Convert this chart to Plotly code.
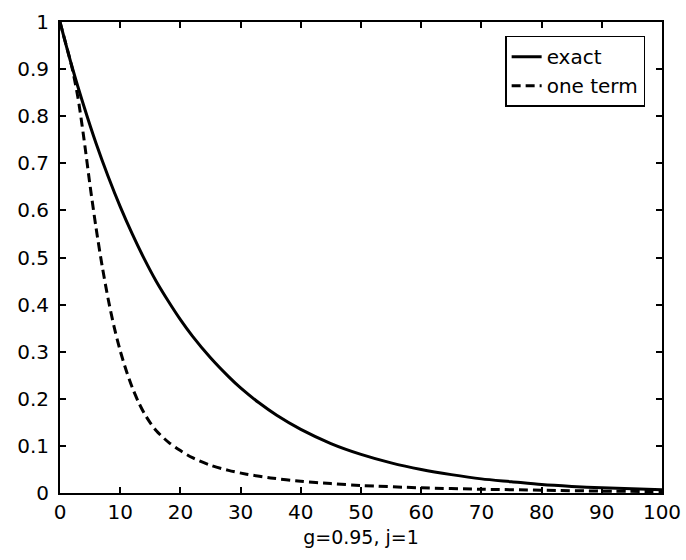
import plotly.graph_objects as go

# exact solution
x_exact = [0, 2, 4, 6, 8, 10, 12, 14, 16, 18, 20, 22, 25, 28, 30, 33, 36, 40,
           45, 50, 55, 60, 65, 70, 75, 80, 85, 90, 95, 100]
y_exact = [1.0, 0.905, 0.82, 0.742, 0.672, 0.608, 0.55, 0.497, 0.449, 0.407,
           0.368, 0.333, 0.287, 0.247, 0.223, 0.192, 0.165, 0.135, 0.105, 0.082,
           0.064, 0.05, 0.039, 0.03, 0.024, 0.018, 0.014, 0.011, 0.009, 0.007]

# one-term approximation
x_one = [0, 1, 2, 3, 4, 5, 6, 7, 8, 9, 10, 11, 12, 13, 14, 15, 16, 18, 20, 22,
         25, 28, 31, 35, 40, 45, 50, 60, 70, 80, 90, 100]
y_one = [1.0, 0.952, 0.903, 0.838, 0.75, 0.652, 0.562, 0.482, 0.412, 0.352,
         0.302, 0.26, 0.224, 0.194, 0.169, 0.149, 0.132, 0.108, 0.09, 0.075,
         0.059, 0.048, 0.04, 0.032, 0.025, 0.02, 0.016, 0.011, 0.008, 0.006,
         0.004, 0.003]

x_ticks = [0, 10, 20, 30, 40, 50, 60, 70, 80, 90, 100]
y_ticks = [0, 0.1, 0.2, 0.3, 0.4, 0.5, 0.6, 0.7, 0.8, 0.9, 1]
y_ticktext = ["0", "0.1", "0.2", "0.3", "0.4", "0.5", "0.6", "0.7", "0.8",
              "0.9", "1"]

FONT = "DejaVu Sans, Liberation Sans, Arial, sans-serif"

fig = go.Figure()
fig.add_trace(go.Scatter(x=x_exact, y=y_exact, mode="lines", name="exact",
                         line=dict(color="black", width=3, shape="spline",
                                   smoothing=0.8)))
fig.add_trace(go.Scatter(x=x_one, y=y_one, mode="lines", name="one term",
                         line=dict(color="black", width=3, dash="9px,5px",
                                   shape="spline", smoothing=0.8)))

axis_common = dict(showline=True, linecolor="black", linewidth=2, mirror="allticks",
                   ticks="inside", ticklen=6, tickwidth=1.5, tickcolor="black",
                   showgrid=False, zeroline=False, automargin=False,
                   tickfont=dict(family=FONT, size=20, color="black"))

fig.update_xaxes(range=[0, 100], tickvals=x_ticks,
                 ticktext=[str(v) for v in x_ticks], ticklabelstandoff=0,
                 title=dict(text="g=0.95, j=1", standoff=8,
                            font=dict(family=FONT, size=19, color="black")),
                 **axis_common)
fig.update_yaxes(range=[0, 1], tickvals=y_ticks, ticktext=y_ticktext,
                 ticklabelstandoff=5, **axis_common)

fig.update_layout(
    width=686, height=560,
    margin=dict(l=60, r=24, t=22, b=67),
    paper_bgcolor="white", plot_bgcolor="white",
    showlegend=True,
    legend=dict(x=0.972, y=0.971, xanchor="right", yanchor="top",
                bordercolor="black", borderwidth=1.5, bgcolor="white",
                font=dict(family=FONT, size=20, color="black"),
                tracegroupgap=0, itemwidth=30),
)

fig.write_html("out.html")
